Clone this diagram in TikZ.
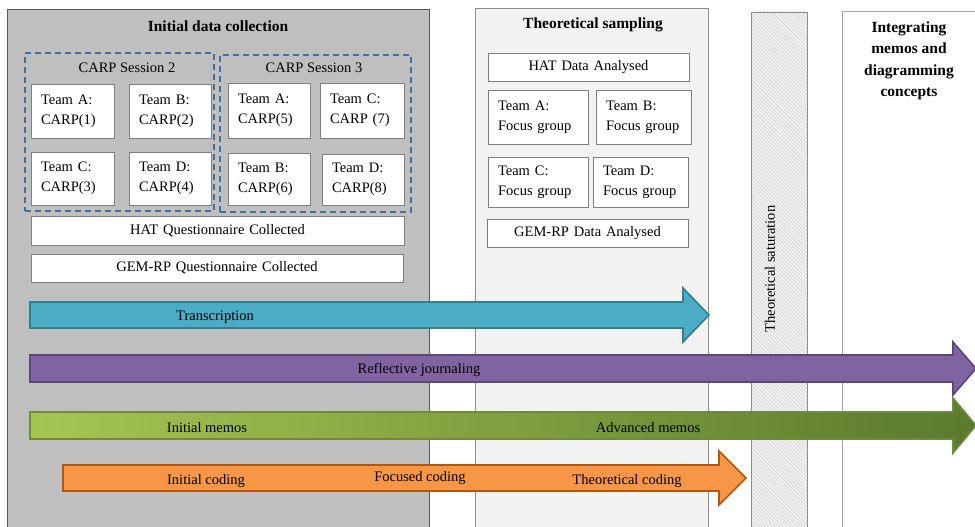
\documentclass[tikz,border=0pt]{standalone}
\usepackage{fontspec}
\setmainfont{Liberation Serif}
\usetikzlibrary{patterns.meta}
\definecolor{panelA}{HTML}{BFBFBF}
\definecolor{panelAline}{HTML}{595959}
\definecolor{panelB}{HTML}{F2F2F2}
\definecolor{panelline}{HTML}{8C8C8C}
\definecolor{boxgray}{HTML}{808080}
\definecolor{dashblue}{HTML}{41719C}
\definecolor{tealF}{HTML}{4BACC6}
\definecolor{tealD}{HTML}{357D91}
\definecolor{purpF}{HTML}{8064A2}
\definecolor{purpD}{HTML}{5C4776}
\definecolor{grnL}{HTML}{A5C553}
\definecolor{grnR}{HTML}{5A7A2E}
\definecolor{grnD}{HTML}{71893F}
\definecolor{orgF}{HTML}{F79646}
\definecolor{orgD}{HTML}{B65708}
\definecolor{hatchbg}{HTML}{F2F2F2}
\definecolor{hatchln}{HTML}{CDCDCD}
\newcommand{\bodyfnt}{\fontsize{14.5}{20}\selectfont}
\newcommand{\titlefnt}{\fontsize{15.5}{21.5}\selectfont\bfseries}
\begin{document}
\begin{tikzpicture}[x=1pt,y=-1pt,
  cbox/.style={draw=boxgray, fill=white, line width=0.8pt, inner xsep=10pt, inner ysep=0pt, align=left, font=\bodyfnt},
  wbox/.style={draw=boxgray, fill=white, line width=0.8pt, inner xsep=10pt, inner ysep=0pt, align=center, font=\bodyfnt},
  sessbox/.style={draw=dashblue, line width=1.8pt, dash pattern=on 6pt off 4pt, inner sep=0pt},
  lbl/.style={font=\bodyfnt, inner sep=0pt},
  ttl/.style={font=\titlefnt, align=center, inner sep=0pt},
  arrowline/.style={line width=1.6pt, line join=miter}
]
\useasboundingbox (0,0) rectangle (975,527);
\clip (0,0) rectangle (975,527);
\fill[white] (0,0) rectangle (975,527);

% panels
\draw[fill=panelA, draw=panelAline, line width=1pt] (7,10) rectangle (429,540);
\draw[fill=panelB, draw=panelline, line width=0.8pt] (475,8) rectangle (708,540);
\fill[hatchbg] (751,12) rectangle (807,540);
\fill[pattern={Lines[angle=-45,distance=2.6pt,line width=0.5pt]}, pattern color=hatchln] (751,12) rectangle (807,540);
\draw[draw=panelline, line width=0.8pt] (751,12) rectangle (807,540);
\draw[draw=panelline!80, line width=0.8pt, fill=white] (842,11) rectangle (990,540);

% titles
\node[ttl] (t1) at (218,26) {Initial data collection};
\node[ttl] (t2) at (593,24.5) {Theoretical sampling};
\node[ttl] (t4) at (909,61) {Integrating\\memos and\\diagramming\\concepts};
\node[lbl, rotate=90] (t3) at (770,269) {Theoretical saturation};

% sessions
\node[sessbox, minimum width=189pt, minimum height=158pt] (sess2) at (119.5,132) {};
\node[sessbox, minimum width=191pt, minimum height=157pt] (sess3) at (315.5,133.5) {};
\node[lbl] (sess2l) at (127,68) {CARP Session 2};
\node[lbl] (sess3l) at (314,68) {CARP Session 3};

\node[cbox, text width=63pt, minimum height=54pt] (s2a) at (72.5,111) {Team A:\\CARP(1)};
\node[cbox, text width=62pt, minimum height=54pt] (s2b) at (170,111) {Team B:\\CARP(2)};
\node[cbox, text width=63pt, minimum height=53pt] (s2c) at (72.5,178.5) {Team C:\\CARP(3)};
\node[cbox, text width=62pt, minimum height=53pt] (s2d) at (170,178.5) {Team D:\\CARP(4)};
\node[cbox, text width=62pt, minimum height=55pt] (s3a) at (269,110.5) {Team A:\\CARP(5)};
\node[cbox, text width=64pt, minimum height=55pt] (s3c) at (362,110.5) {Team C:\\CARP (7)};
\node[cbox, text width=62pt, minimum height=52pt] (s3b) at (269,179) {Team B:\\CARP(6)};
\node[cbox, text width=62pt, minimum height=51pt] (s3d) at (363,179.5) {Team D:\\CARP(8)};

\node[wbox, text width=353pt, minimum height=29pt] (hatq) at (217.5,230.5) {HAT Questionnaire Collected};
\node[wbox, text width=352pt, minimum height=28pt] (gemq) at (217,268) {GEM-RP Questionnaire Collected};

% theoretical sampling boxes
\node[wbox, text width=181pt, minimum height=28pt] (hatda) at (588.5,67) {HAT Data Analysed};
\node[cbox, text width=80pt, minimum height=54pt] (fa) at (538,117) {Team A:\\Focus group};
\node[cbox, text width=75pt, minimum height=54pt] (fb) at (643.5,117) {Team B:\\Focus group};
\node[cbox, text width=80pt, minimum height=50pt] (fc) at (538,182) {Team C:\\Focus group};
\node[cbox, text width=75pt, minimum height=50pt] (fd) at (640.5,182) {Team D:\\Focus group};
\node[wbox, text width=181pt, minimum height=28pt] (gemda) at (587.5,233) {GEM-RP Data Analysed};

% arrows
\draw[arrowline, fill=tealF, draw=tealD] (30,302) -- (683,302) -- (683,288) -- (709,315) -- (683,342) -- (683,328) -- (30,328) -- cycle;
\draw[arrowline, fill=purpF, draw=purpD] (30,355) -- (953,355) -- (953,342) -- (976,368.5) -- (953,395) -- (953,382) -- (30,382) -- cycle;
\shade[left color=grnL, right color=grnR] (30,412) -- (953,412) -- (953,398) -- (976,425.5) -- (953,453) -- (953,439) -- (30,439) -- cycle;
\draw[arrowline, draw=grnD] (30,412) -- (953,412) -- (953,398) -- (976,425.5) -- (953,453) -- (953,439) -- (30,439) -- cycle;
\draw[arrowline, fill=orgF, draw=orgD] (63,465) -- (719,465) -- (719,451) -- (746,478) -- (719,505) -- (719,491) -- (63,491) -- cycle;

\node[lbl] (a1) at (215,317.5) {Transcription};
\node[lbl] (a2) at (419,370) {Reflective journaling};
\node[lbl] (a3) at (207,428) {Initial memos};
\node[lbl] (a4) at (648,428) {Advanced memos};
\node[lbl] (a5) at (206,481.5) {Initial coding};
\node[lbl] (a6) at (420,478.5) {Focused coding};
\node[lbl] (a7) at (627,481.5) {Theoretical coding};
\end{tikzpicture}
\end{document}
